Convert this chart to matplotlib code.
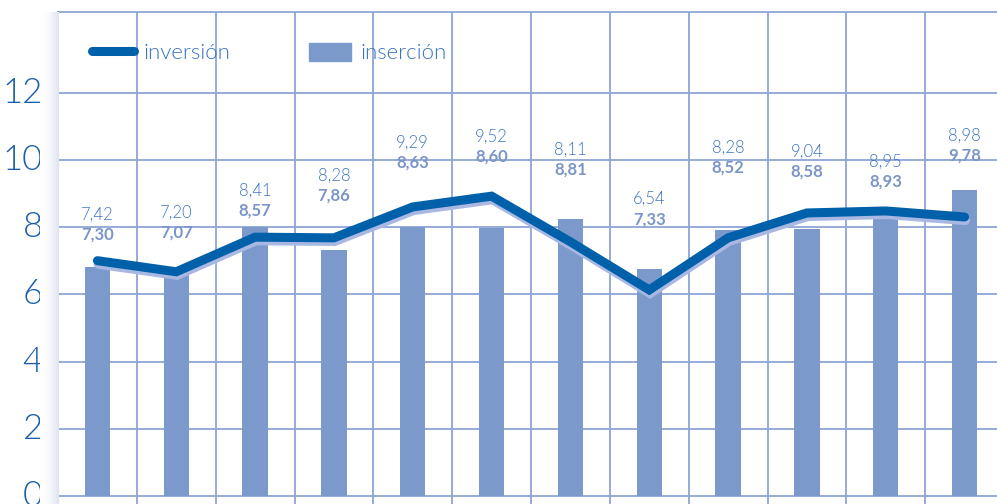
import numpy as np
import matplotlib
matplotlib.use("Agg")
import matplotlib.pyplot as plt
import matplotlib.patheffects as pe
import matplotlib.transforms as mtransforms
from matplotlib.patches import Patch
from matplotlib.lines import Line2D

plt.rcParams['font.family'] = ['Lato', 'DejaVu Sans']

# values as drawn against the axis
insercion = [6.8, 6.6, 8.0, 7.32, 8.0, 7.98, 8.24, 6.76, 7.92, 7.95, 8.24, 9.1]
inversion = [7.0, 6.67, 7.7, 7.68, 8.6, 8.92, 7.56, 6.13, 7.68, 8.42, 8.48, 8.3]

# value labels printed above each column
lab_inversion = ["7,42", "7,20", "8,41", "8,28", "9,29", "9,52",
                 "8,11", "6,54", "8,28", "9,04", "8,95", "8,98"]
lab_insercion = ["7,30", "7,07", "8,57", "7,86", "8,63", "8,60",
                 "8,81", "7,33", "8,52", "8,58", "8,93", "9,78"]
lab_height = [7.77, 7.83, 8.48, 8.93, 9.91, 10.09, 9.7, 8.24, 9.76, 9.64, 9.35, 10.12]

yticks = [0, 2, 4, 6, 8, 10, 12]

grid_c = '#8fa5d6'
bar_c = '#7b99cb'
line_c = '#0060aa'
shadow_c = '#a9b8e2'
thin = 300

fig = plt.figure(figsize=(9.97, 5.04), dpi=100)
ax = fig.add_axes([58 / 997, 0, 946 / 997, 492 / 504])

x = np.arange(len(insercion)) + 0.5
ax.bar(x, insercion, width=0.32, color=bar_c, zorder=2)
ax.plot(x, inversion, color=line_c, lw=6.5, solid_capstyle='round',
        solid_joinstyle='miter', zorder=3,
        path_effects=[pe.SimpleLineShadow(offset=(0.6, -2.6), shadow_color=shadow_c, alpha=1),
                      pe.Normal()])

for i in range(len(x)):
    ax.text(x[i], lab_height[i] + 0.6, lab_inversion[i], ha='center', va='center',
            fontsize=12, color='#3f76bd', fontweight=thin, zorder=4)
    ax.text(x[i], lab_height[i], lab_insercion[i], ha='center', va='center',
            fontsize=12, color='#7b95c8', fontweight='bold', zorder=4)

ax.set_xlim(0, 12)
ax.set_ylim(-0.24, 14.4)
ax.set_xticks(np.arange(0, 13))
ax.set_yticks(yticks)
ax.set_yticklabels([str(t) for t in yticks])
ax.tick_params(axis='x', length=0, labelbottom=False)
ax.tick_params(axis='y', length=0, pad=11, labelsize=25, labelcolor='#1a5fab')
shift = mtransforms.ScaledTranslation(0, 3 / 100, fig.dpi_scale_trans)
for t in ax.get_yticklabels():
    t.set_fontweight(thin)
    t.set_transform(t.get_transform() + shift)
ax.grid(True, color=grid_c, lw=1.3, zorder=1)
ax.set_axisbelow(True)
for s in ['left', 'top']:
    ax.spines[s].set_color(grid_c)
    ax.spines[s].set_linewidth(1.3)
ax.spines['right'].set_visible(False)
ax.spines['bottom'].set_visible(False)

handles = [Line2D([0], [0], color=line_c, lw=6.5, solid_capstyle='round'),
           Patch(color=bar_c)]
leg = ax.legend(handles, ['inversión', 'inserción'], ncol=2, frameon=False,
                loc='upper left', bbox_to_anchor=(0.031, 0.947), fontsize=16,
                handlelength=1.9, handleheight=0.9, handletextpad=0.45,
                columnspacing=3.5, borderpad=0.2, borderaxespad=0)
for t in leg.get_texts():
    t.set_color('#3873bb')
    t.set_fontweight(thin)

# soft shadow at the left edge of the plot
sh = fig.add_axes([40 / 997, 0, 18 / 997, 492 / 504])
grad = np.linspace(0, 1, 50).reshape(1, -1) ** 2
sh.imshow(grad, aspect='auto', cmap=matplotlib.colors.LinearSegmentedColormap.from_list(
    'sh', ['#ffffff', '#dfe3f1']), extent=[0, 1, 0, 1])
sh.axis('off')

fig.savefig('out.png', dpi=100)
